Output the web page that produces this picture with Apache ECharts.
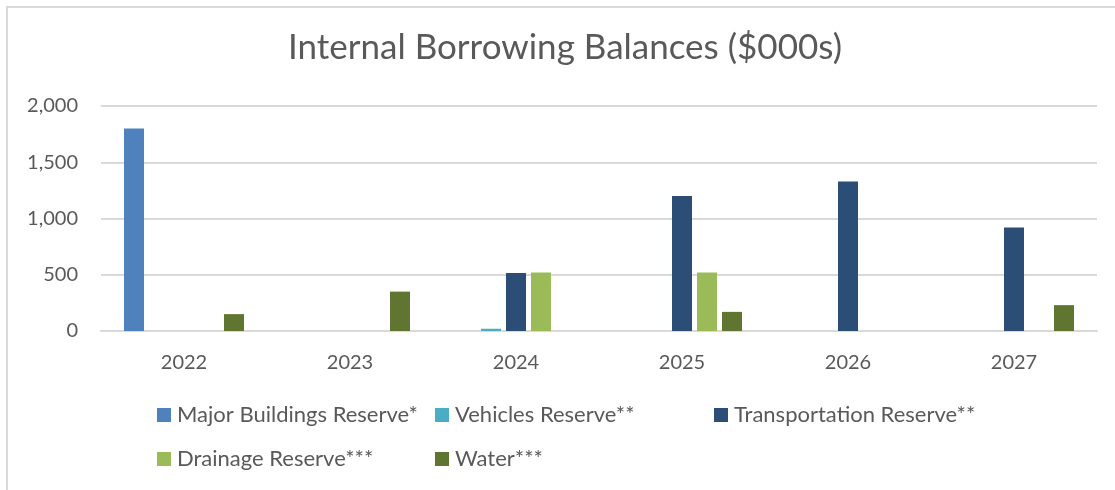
<!DOCTYPE html>
<html>
<head>
<meta charset="utf-8">
<style>
  html, body { margin: 0; padding: 0; background: #ffffff; }
  #chart { width: 1115px; height: 490px; }
</style>
<script src="https://cdn.jsdelivr.net/npm/echarts@6/dist/echarts.min.js"></script>
</head>
<body>
<div id="chart"></div>
<script>
// Balances in $000s by year
const years = ['2022', '2023', '2024', '2025', '2026', '2027'];
const majorBuildings = [1800, null, null, null, null, null];
const vehicles = [null, null, 20, null, null, null];
const transportation = [null, null, 515, 1200, 1330, 920];
const drainage = [null, null, 520, 520, null, null];
const water = [150, 350, null, 170, null, 230];

const seriesNames = [
  'Major Buildings Reserve*',
  'Vehicles Reserve**',
  'Transportation Reserve**',
  'Drainage Reserve***',
  'Water***'
];
const seriesValues = [majorBuildings, vehicles, transportation, drainage, water];
const seriesColors = ['#4F81BD', '#4BACC6', '#2C4D76', '#9BBB59', '#607530'];

const FONT = 'Lato, "Open Sans", sans-serif';
const TEXT = '#595959';

// legend placement: three columns on the first row, two on the second
const legendSpots = [
  { left: 157, top: 404 },
  { left: 435, top: 404 },
  { left: 714, top: 404 },
  { left: 157, top: 448 },
  { left: 435, top: 448 }
];

const chart = echarts.init(document.getElementById('chart'), null, { renderer: 'canvas' });

chart.setOption({
  animation: false,
  backgroundColor: '#ffffff',
  title: {
    text: 'Internal Borrowing Balances ($000s)',
    left: 565,
    top: 30,
    padding: 0,
    textAlign: 'center',
    textStyle: {
      fontFamily: FONT,
      fontSize: 35,
      fontWeight: 'normal',
      color: TEXT
    }
  },
  graphic: [{
    type: 'rect',
    silent: true,
    shape: { x: 7, y: 7, width: 1300, height: 700 },
    style: { fill: null, stroke: '#D9D9D9', lineWidth: 2 }
  }],
  legend: seriesNames.map((name, i) => ({
    data: [name],
    left: legendSpots[i].left,
    top: legendSpots[i].top,
    padding: 0,
    icon: 'rect',
    itemWidth: 14,
    itemHeight: 14,
    selectedMode: false,
    textStyle: { fontFamily: FONT, fontSize: 22, color: TEXT, padding: [0, 0, 0, 1] }
  })),
  grid: { left: 101, right: 18, top: 106, bottom: 159, containLabel: false },
  xAxis: {
    type: 'category',
    data: years,
    axisLine: { show: true, lineStyle: { color: '#D9D9D9', width: 2 } },
    axisTick: { show: false },
    axisLabel: { fontFamily: FONT, fontSize: 20, color: TEXT, margin: 22 }
  },
  yAxis: {
    type: 'value',
    min: 0,
    max: 2000,
    interval: 500,
    axisLine: { show: false },
    axisTick: { show: false },
    splitLine: { lineStyle: { color: '#D9D9D9', width: 2 } },
    axisLabel: {
      fontFamily: FONT,
      fontSize: 20,
      color: TEXT,
      margin: 23,
      formatter: v => v.toLocaleString('en-US')
    }
  },
  series: seriesNames.map((name, i) => ({
    name: name,
    type: 'bar',
    data: seriesValues[i],
    barWidth: 20,
    barGap: '25%',
    itemStyle: { color: seriesColors[i] }
  }))
});
</script>
</body>
</html>
